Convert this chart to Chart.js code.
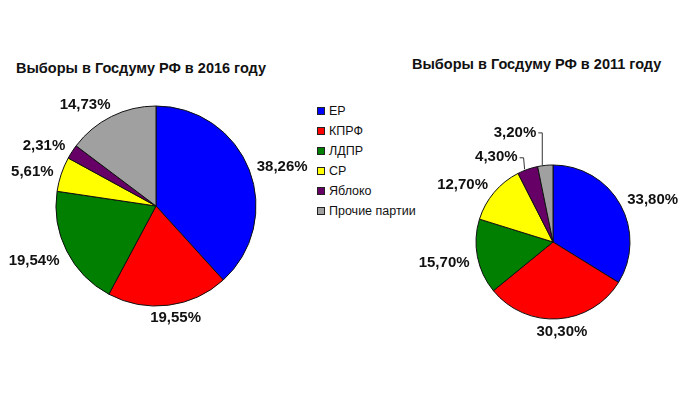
<!DOCTYPE html>
<html>
<head>
<meta charset="utf-8">
<script src="https://cdn.jsdelivr.net/npm/chart.js@4"></script>
<style>
  html, body { margin: 0; padding: 0; background: #fff; }
  body { width: 680px; height: 420px; position: relative; overflow: hidden;
         font-family: Arial, "Liberation Sans", sans-serif; color: #111; }
  canvas { position: absolute; top: 0; }
  .title { position: absolute; font-weight: bold; font-size: 14.5px; white-space: nowrap; line-height: 16px; }
  #legend { position: absolute; left: 317px; top: 103px; margin: 0; padding: 0; list-style: none; font-size: 12.5px; }
  #legend li { height: 20px; line-height: 16px; white-space: nowrap; }
  #legend span { display: inline-block; width: 6px; height: 6px; border: 1px solid #222;
                 margin-right: 4px; vertical-align: 0px; }
</style>
</head>
<body>
<div class="title" style="left:16px; top:60px;">Выборы в Госдуму РФ в 2016 году</div>
<div class="title" style="left:412px; top:56px;">Выборы в Госдуму РФ в 2011 году</div>
<ul id="legend"></ul>
<canvas id="pie2016" width="340" height="420" style="left:0"></canvas>
<canvas id="pie2011" width="340" height="420" style="left:340px"></canvas>
<script>
var parties = ['ЕР', 'КПРФ', 'ЛДПР', 'СР', 'Яблоко', 'Прочие партии'];
var votes2016 = [38.26, 19.55, 19.54, 5.61, 2.31, 14.73];
var votes2011 = [33.80, 30.30, 15.70, 12.70, 4.30, 3.20];
var partyColors = ['#0000ff', '#ff0000', '#007f00', '#ffff00', '#660066', '#a0a0a0'];

// legend
var legend = document.getElementById('legend');
parties.forEach(function (name, i) {
  var li = document.createElement('li');
  li.innerHTML = '<span style="background:' + partyColors[i] + '"></span>' + name;
  legend.appendChild(li);
});

// percent labels around the pie, with leader lines for moved ones
var pieLabels = {
  id: 'pieLabels',
  afterDatasetsDraw: function (chart, args, opts) {
    var ctx = chart.ctx;
    var meta = chart.getDatasetMeta(0);
    var values = chart.data.datasets[0].data;
    var leader = opts.leader || {};
    ctx.save();
    ctx.font = 'bold 15px Arial, "Liberation Sans", sans-serif';
    ctx.fillStyle = '#111';
    ctx.strokeStyle = '#333';
    ctx.lineWidth = 1;
    ctx.textAlign = 'center';
    ctx.textBaseline = 'middle';
    meta.data.forEach(function (arc, i) {
      var p = arc.getProps(['x', 'y', 'startAngle', 'endAngle', 'outerRadius'], true);
      var mid = (p.startAngle + p.endAngle) / 2;
      var dx = Math.cos(mid), dy = Math.sin(mid);
      var text = values[i].toFixed(2).replace('.', ',') + '%';
      var w = ctx.measureText(text).width;
      if (leader[i]) {
        var px = p.x + dx * p.outerRadius, py = p.y + dy * p.outerRadius;
        var lx = px - leader[i][0], ly = py - leader[i][1];
        ctx.fillText(text, lx - w / 2, ly);
        ctx.beginPath();
        ctx.moveTo(lx + 2, ly + 0.5);
        ctx.lineTo(lx + 6, ly + 0.5);
        ctx.lineTo(px - 3, py);
        ctx.stroke();
      } else {
        var r = p.outerRadius + opts.gap;
        var kx = Math.max(-1, Math.min(1, dx * 2));
        var ky = dy > 0.9 ? dy * 5 : dy * 8 + 3;
        ctx.fillText(text, p.x + dx * r + kx * w / 2, p.y + dy * r + ky);
      }
    });
    ctx.restore();
  }
};

function makePie(id, values, padding, leader) {
  return new Chart(document.getElementById(id), {
    type: 'pie',
    data: {
      labels: parties,
      datasets: [{
        data: values,
        backgroundColor: partyColors,
        borderColor: '#111',
        borderWidth: 1,
        hoverOffset: 0
      }]
    },
    options: {
      responsive: false,
      animation: false,
      layout: { padding: padding },
      plugins: {
        legend: { display: false },
        tooltip: { enabled: false },
        pieLabels: { gap: 8, leader: leader }
      }
    },
    plugins: [pieLabels]
  });
}

makePie('pie2016', votes2016, { left: 55.5, top: 105.5, right: 83.5, bottom: 113.5 }, {});
makePie('pie2011', votes2011, { left: 135.5, top: 164.5, right: 49.5, bottom: 100.5 },
  { 4: [10, 12], 5: [9, 33] });
</script>
</body>
</html>
